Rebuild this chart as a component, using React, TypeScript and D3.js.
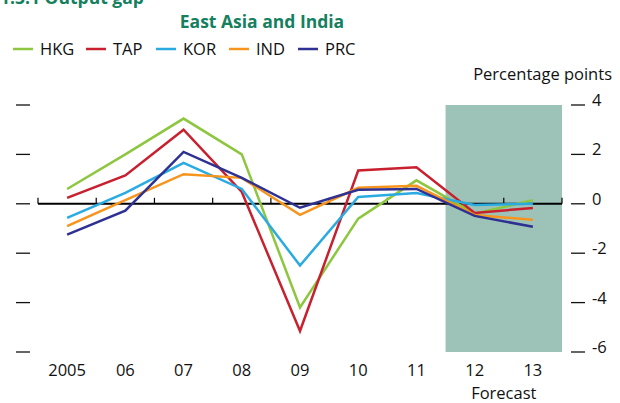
import { useEffect, useRef } from 'react';
import * as d3 from 'd3';

const years = ['2005', '06', '07', '08', '09', '10', '11', '12', '13'];
const forecastYears = ['12', '13'];
const yTicks = [4, 2, 0, -2, -4, -6];

const hkg = [0.6, 2.0, 3.45, 2.0, -4.2, -0.6, 0.95, -0.4, 0.15];
const tap = [0.24, 1.15, 3.0, 0.48, -5.15, 1.35, 1.48, -0.37, -0.17];
const kor = [-0.57, 0.44, 1.66, 0.6, -2.5, 0.28, 0.44, -0.05, 0.0];
const ind = [-0.9, 0.15, 1.2, 1.05, -0.45, 0.65, 0.73, -0.45, -0.65];
const prc = [-1.25, -0.28, 2.1, 1.05, -0.16, 0.57, 0.6, -0.49, -0.93];

const seriesNames = ['HKG', 'TAP', 'KOR', 'IND', 'PRC'];
const seriesValues = [hkg, tap, kor, ind, prc];
const seriesColors = ['#8DC63F', '#C8202F', '#29ABE2', '#F7941D', '#2E3192'];

const FONT = '"Open Sans", "Noto Sans", sans-serif';
const GREEN = '#14805E';

function App() {
  const ref = useRef<SVGSVGElement>(null);

  useEffect(() => {
    const svg = d3.select(ref.current);
    svg.selectAll('*').remove();

    const x = d3.scaleBand().domain(years).range([38, 562]);
    const y = d3.scaleLinear().domain([-6, 4]).range([352, 105]);

    // titles (top one is cut by the edge as in the source)
    svg.append('text').attr('x', 0).attr('y', 4)
      .style('font-family', FONT).style('font-size', '17.5px').style('font-weight', 700)
      .attr('fill', GREEN).text('1.3.1 Output gap');
    svg.append('text').attr('x', 262).attr('y', 28).attr('text-anchor', 'middle')
      .style('font-family', FONT).style('font-size', '17.5px').style('font-weight', 700)
      .attr('fill', GREEN).text('East Asia and India');

    // legend
    const legendX = [13, 86, 156, 229, 298];
    seriesNames.forEach((name, i) => {
      const g = svg.append('g').attr('transform', `translate(${legendX[i]},49)`);
      g.append('line').attr('x1', 0).attr('x2', 20).attr('y1', 0).attr('y2', 0)
        .attr('stroke', seriesColors[i]).attr('stroke-width', 2.5);
      g.append('text').attr('x', 27).attr('y', 6)
        .style('font-family', FONT).style('font-size', '16.5px').attr('fill', '#111')
        .text(name);
    });

    svg.append('text').attr('x', 612).attr('y', 80).attr('text-anchor', 'end')
      .style('font-family', FONT).style('font-size', '16.5px').attr('fill', '#111')
      .text('Percentage points');

    // forecast shading
    const fx0 = x(forecastYears[0])!;
    const fx1 = x(forecastYears[forecastYears.length - 1])! + x.bandwidth();
    svg.append('rect').attr('x', fx0).attr('y', y(4)).attr('width', fx1 - fx0)
      .attr('height', y(-6) - y(4)).attr('fill', '#9DC3B8');

    // y ticks on both sides
    yTicks.forEach(t => {
      svg.append('line').attr('x1', 16).attr('x2', 30).attr('y1', y(t)).attr('y2', y(t))
        .attr('stroke', '#111').attr('stroke-width', 1.3);
      svg.append('line').attr('x1', 571).attr('x2', 585).attr('y1', y(t)).attr('y2', y(t))
        .attr('stroke', '#111').attr('stroke-width', 1.3);
      svg.append('text').attr('x', 592).attr('y', y(t) + 1)
        .style('font-family', FONT).style('font-size', '16.5px').attr('fill', '#111')
        .text(t);
    });

    // zero line with ticks
    svg.append('line').attr('x1', 38).attr('x2', 562).attr('y1', y(0)).attr('y2', y(0))
      .attr('stroke', '#000').attr('stroke-width', 2);
    [...years.map(yr => x(yr)!), 562].forEach(px => {
      svg.append('line').attr('x1', px).attr('x2', px).attr('y1', y(0)).attr('y2', y(0) - 6)
        .attr('stroke', '#000').attr('stroke-width', 1.2);
    });

    // year labels
    years.forEach(yr => {
      svg.append('text').attr('x', x(yr)! + x.bandwidth() / 2).attr('y', 376)
        .attr('text-anchor', 'middle')
        .style('font-family', FONT).style('font-size', '16.5px').attr('fill', '#111')
        .text(yr);
    });
    svg.append('text').attr('x', (fx0 + fx1) / 2).attr('y', 399).attr('text-anchor', 'middle')
      .style('font-family', FONT).style('font-size', '16.5px').attr('fill', '#111')
      .text('Forecast');

    // lines
    const line = d3.line<number>()
      .x((_, i) => x(years[i])! + x.bandwidth() / 2)
      .y(d => y(d));
    seriesValues.forEach((vals, i) => {
      svg.append('path').attr('d', line(vals)!).attr('fill', 'none')
        .attr('stroke', seriesColors[i]).attr('stroke-width', 2.5)
        .attr('stroke-linejoin', 'miter');
    });
  }, []);

  return (
    <svg ref={ref} width={620} height={403}
      style={{ position: 'absolute', left: 0, top: 0, background: '#fff' }} />
  );
}

export default App;
